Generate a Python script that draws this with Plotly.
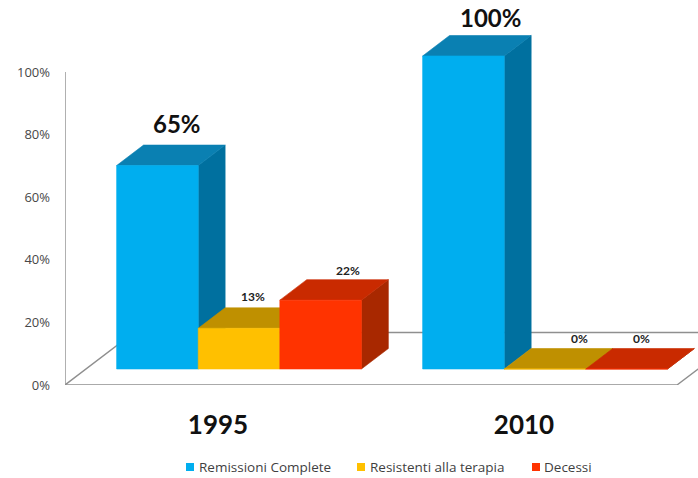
import plotly.graph_objects as go

years = ["1995", "2010"]
series_names = ["Remissioni Complete", "Resistenti alla terapia", "Decessi"]
remissioni = [65, 100]
resistenti = [13, 0]
decessi = [22, 0]
y_ticks = [0, 20, 40, 60, 80, 100]
y_labels = ["0%", "20%", "40%", "60%", "80%", "100%"]

# (front, top, side) shades per series
palette = [
    ("#00AEEF", "#0A80B2", "#00709F"),
    ("#FFC000", "#BF9000", "#A67C00"),
    ("#FF3300", "#C92A00", "#A82800"),
]

WIDTH, HEIGHT = 698, 478
M_LEFT, M_BOTTOM = 65, 93
PX_PER_CAT = 306.0
PX_PER_PCT = 3.13

# oblique projection of the floor depth, expressed in axis units
DEPTH_X = 69 / PX_PER_CAT
DEPTH_Y = 52.5 / PX_PER_PCT
Z_FRONT, Z_BACK = 0.305, 0.695
BAR_W = 0.8 / 3

x_min = -0.5
x_max = x_min + (WIDTH - M_LEFT) / PX_PER_CAT
y_max = (HEIGHT - M_BOTTOM) / PX_PER_PCT


def proj(x, v, z):
    return x + z * DEPTH_X, v + z * DEPTH_Y


def face(points, color):
    return go.Scatter(
        x=[p[0] for p in points] + [points[0][0]],
        y=[p[1] for p in points] + [points[0][1]],
        mode="lines",
        fill="toself",
        fillcolor=color,
        line=dict(color=color, width=0.6),
        hoverinfo="skip",
        showlegend=False,
    )


def guide(points):
    return go.Scatter(
        x=[p[0] for p in points],
        y=[p[1] for p in points],
        mode="lines",
        line=dict(color="#8F8F8F", width=1.4),
        hoverinfo="skip",
        showlegend=False,
    )


fig = go.Figure()

# axis wall and floor outline
fig.add_trace(guide([(x_min, 100), (x_min, 0), (1.5, 0), proj(1.5, 0, 1)]))
fig.add_trace(guide([(x_min, 0), proj(x_min, 0, 1), (x_max, DEPTH_Y)]))

# cuboids, painted left to right so nearer faces cover what they hide
all_values = [remissioni, resistenti, decessi]
annotations = []
big_shift = [(-7.5, 5), (0.5, 2)]
small_shift = {(1, 0): (-13, 2), (2, 0): (0, 0), (1, 1): (8, 1), (2, 1): (-12, 1)}
for cat in range(len(years)):
    for s, values in enumerate(all_values):
        v = values[cat]
        left = cat - 0.4 + s * BAR_W
        right = left + BAR_W
        front, top, side = palette[s]
        fig.add_trace(face([proj(right, 0, Z_FRONT), proj(right, 0, Z_BACK),
                            proj(right, v, Z_BACK), proj(right, v, Z_FRONT)], side))
        fig.add_trace(face([proj(left, v, Z_FRONT), proj(left, v, Z_BACK),
                            proj(right, v, Z_BACK), proj(right, v, Z_FRONT)], top))
        fig.add_trace(face([proj(left, 0, Z_FRONT), proj(right, 0, Z_FRONT),
                            proj(right, v, Z_FRONT), proj(left, v, Z_FRONT)], front))
        cx, cy = proj((left + right) / 2, v, Z_BACK)
        if s == 0:
            dx, dy = big_shift[cat]
            annotations.append(dict(
                x=cx, y=cy, text=f"{v}%", showarrow=False, yanchor="bottom",
                xshift=dx, yshift=dy,
                font=dict(family="Lato", size=24, color="#111111", weight="bold"),
            ))
        else:
            dx, dy = small_shift[(s, cat)]
            annotations.append(dict(
                x=cx, y=cy, text=f"{v}%", showarrow=False, yanchor="bottom",
                xshift=dx, yshift=dy,
                font=dict(family="Lato", size=12, color="#222222", weight="bold"),
            ))

# colour key under the chart
key_square_px = [186, 357, 532]
key_text_px = [199, 370, 544]
KEY_Y_PX = 467
plot_w = WIDTH - M_LEFT
plot_h = HEIGHT - M_BOTTOM
shapes = []
for s, name in enumerate(series_names):
    x0 = (key_square_px[s] - M_LEFT) / plot_w
    x1 = (key_square_px[s] + 8 - M_LEFT) / plot_w
    y0 = (plot_h - KEY_Y_PX - 4) / plot_h
    y1 = (plot_h - KEY_Y_PX + 4) / plot_h
    shapes.append(dict(type="rect", xref="paper", yref="paper", x0=x0, x1=x1,
                       y0=y0, y1=y1, fillcolor=palette[s][0], line_width=0))
    annotations.append(dict(
        xref="paper", yref="paper", x=(key_text_px[s] - M_LEFT) / plot_w,
        y=(plot_h - KEY_Y_PX) / plot_h, text=name, showarrow=False,
        xanchor="left", yanchor="middle", xshift=-2,
        font=dict(family="Open Sans", size=13.5, color="#3F3F3F"),
    ))

fig.update_layout(
    width=WIDTH,
    height=HEIGHT,
    margin=dict(l=M_LEFT, r=0, t=0, b=M_BOTTOM, pad=0),
    paper_bgcolor="white",
    plot_bgcolor="white",
    showlegend=False,
    annotations=annotations,
    shapes=shapes,
    xaxis=dict(
        range=[x_min, x_max],
        tickmode="array",
        tickvals=list(range(len(years))),
        ticktext=years,
        ticks="",
        ticklabelstandoff=22,
        showgrid=False,
        zeroline=False,
        showline=False,
        tickfont=dict(family="Lato", size=26, color="#111111", weight="bold"),
    ),
    yaxis=dict(
        range=[0, y_max],
        tickmode="array",
        tickvals=y_ticks,
        ticktext=y_labels,
        ticks="",
        ticklabelstandoff=14,
        showgrid=False,
        zeroline=False,
        showline=False,
        tickfont=dict(family="Open Sans", size=13, color="#484848"),
    ),
)

fig.write_html("out.html")
